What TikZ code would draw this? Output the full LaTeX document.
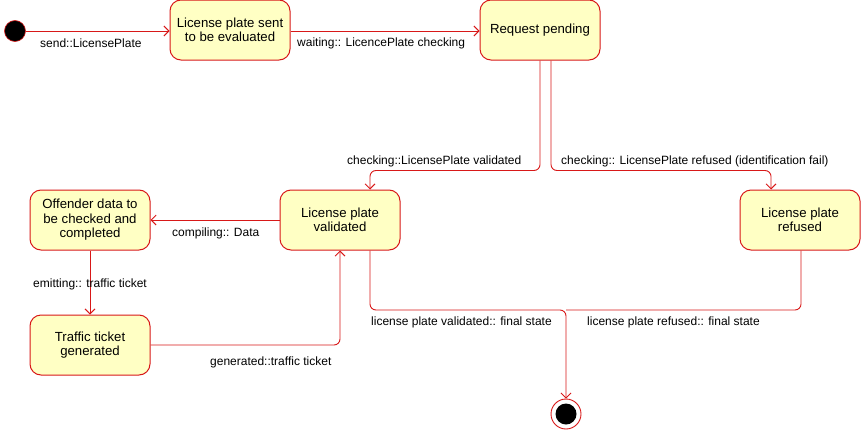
\documentclass[tikz,border=0pt]{standalone}
\usepackage{fontspec}
\setmainfont{Liberation Sans}
\usetikzlibrary{arrows.meta}
\definecolor{stred}{HTML}{D81818}
\definecolor{stfill}{HTML}{FFFFC4}
\tikzset{
  x=1pt, y=-1pt,
  state/.style={draw=stred, fill=stfill, line width=1pt, rounded corners=11pt, minimum width=120pt, minimum height=60pt,
    align=center, font=\fontsize{13.2}{14.5}\selectfont, inner sep=2pt},
  trans/.style={draw=stred, line width=0.9pt, rounded corners=6pt, -{Straight Barb[length=5pt,width=10pt]}},
  lbl/.style={font=\fontsize{12}{13}\selectfont, inner sep=0pt, anchor=west},
}
\begin{document}
\begin{tikzpicture}
\useasboundingbox (0,0) rectangle (861,431);
% states
\node[circle, fill=black, draw=stred, line width=0.6pt, minimum size=21pt, inner sep=0pt] (init) at (15,31) {};
\node[state] (sent) at (230,30) {License plate sent\\to be evaluated};
\node[state] (pend) at (540,30) {Request pending};
\node[state] (valid) at (340,220) {License plate\\validated};
\node[state] (offend) at (90,220) {Offender data to\\be checked and\\completed};
\node[state] (ticket) at (90,345) {Traffic ticket\\generated};
\node[state] (refus) at (800,220) {License plate\\refused};
\node[circle, draw=stred, fill=white, line width=0.9pt, minimum size=30pt, inner sep=0pt] (final) at (566,414) {};
\node[circle, fill=black, minimum size=21pt, inner sep=0pt] (finalin) at (566,414) {};
\coordinate (mergeV) at (566,310);
% transitions
\draw[trans] (init) -- (sent.west |- init);
\node[lbl] (l1) at (40,43) {send::LicensePlate};
\draw[trans] (sent.east |- init) -- (pend.west |- init);
\node[lbl] (l2) at (297,43) {waiting:: LicencePlate checking};
\draw[trans] (pend.south) -- ++(0,110) -| (valid.north -| 370,0);
\node[lbl] (l3) at (347,161) {checking::LicensePlate validated};
\draw[trans] (pend.south -| 551,0) -- ++(0,110) -| (refus.north -| 771,0);
\node[lbl] (l4) at (561,161) {checking:: LicensePlate refused (identification fail)};
\draw[trans] (valid.west) -- (offend.east);
\node[lbl] (l5) at (172,233) {compiling:: Data};
\draw[trans] (offend.south) -- (ticket.north);
\node[lbl, anchor=center] (l6) at (90,284) {emitting:: traffic ticket};
\draw[trans] (ticket.east) -| (valid.south);
\node[lbl] (l7) at (210,362) {generated::traffic ticket};
\draw[trans] (valid.south -| 370,0) |- (mergeV) -- (final.north);
\draw[trans, -] (refus.south -| 801,0) |- (mergeV);
\node[lbl] (l8) at (371,322) {license plate validated:: final state};
\node[lbl] (l9) at (587,322) {license plate refused:: final state};
\end{tikzpicture}
\end{document}
